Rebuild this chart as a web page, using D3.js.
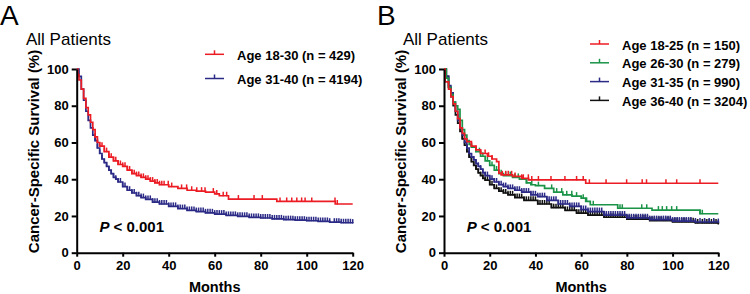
<!DOCTYPE html>
<html>
<head>
<meta charset="utf-8">
<script src="https://cdn.jsdelivr.net/npm/d3@7"></script>
<style>
  body { margin: 0; background: #fff; }
  svg { display: block; font-family: "Liberation Sans", Arial, sans-serif; }
</style>
</head>
<body>
<div id="chart"></div>
<script>
// --- data ---
const monthTicks = [0, 20, 40, 60, 80, 100, 120];
const survivalTicks = [0, 20, 40, 60, 80, 100];

// panel A : [month, survival %]
const age18to30 = [[0,100],[0.5,97],[1,94],[2,89],[3,84],[4,79],[5,75],[6,71],[7,67],[8,63],[9,60],[10,58],[12,55],[14,52],[16,50],[18,48],[20,47],[22,45],[24,43],[26,42],[28,41],[30,40],[32,39],[34,38],[36,37],[40,36],[44,35],[48,34],[52,33.5],[56,33],[60,32],[62,31],[66,29.2],[87,27.9],[112.4,26.5],[120,26.5]];
const age31to40 = [[0,100],[1,96],[2,89],[3,83],[4,77],[5,72],[6,68],[7,64],[8,61],[9,57],[10,54],[11,51],[12,49],[13,47],[14,45],[15,43],[16,41],[17,40],[18,38.5],[20,36],[22,34],[24,32.5],[26,31],[28,30],[30,29],[33,27.5],[36,26.5],[40,25.2],[44,24],[48,23],[52,22.4],[56,21.7],[60,21],[65,20.3],[70,19.8],[75,19.2],[80,18.9],[85,18.4],[90,18],[95,17.7],[100,17.4],[105,17],[110,16.6],[115,16.3],[120,16.1]];

// panel B
const age18to25 = [[0,100],[0.5,93],[2,89],[3,85],[4,81],[5,77],[6,73],[7,68],[8,65],[9,62],[10,60.5],[12,58],[14,56],[16,54],[19,52.5],[21,51],[23,49.6],[24,43.3],[25,42.4],[30,41.5],[34,40.5],[37,39.6],[62,37.8],[120,37.8]];
const age26to30 = [[0,100],[1,95],[2,90],[3,86],[4,82],[5,80],[6,78],[7,72],[8,67],[9,64],[10,61],[11,59],[12,57.5],[14,55],[16,52.5],[18,50],[20,47.5],[22,45],[24,43],[26,42],[30,41],[33,40],[36,38],[38,37],[40,36.5],[44,35],[48,33],[52,31.5],[56,30.8],[60,29.7],[62,27.9],[64,26.1],[76,24.2],[91,23.2],[112,21.2],[120,21.2]];
const age31to35 = [[0,100],[1,96],[2,91],[3,87],[4,82],[5,77],[6,72],[7,68],[8,64],[9,60],[10,57],[11,54],[12,52],[13,50.5],[14,48.5],[15,47],[16,45.5],[17,43.5],[18,42],[20,40],[22,38.5],[24,37],[26,36],[28,35],[31,34],[34,33],[38,31.5],[41,30.5],[45,28.5],[50,26.5],[55,25.2],[60,23.5],[63,22.4],[70,20.5],[80,19],[90,18],[100,17.2],[110,16.7],[120,16.4]];
const age36to40 = [[0,100],[1,96],[2,90],[3,85],[4,80],[5,75],[6,70.5],[7,66],[8,62],[9,58.5],[10,55],[11,52],[12,49.5],[13,47.5],[14,45.5],[15,43.5],[16,42],[17,40.5],[18,39.5],[20,37],[22,35],[24,33.5],[26,32.5],[28,31.5],[31,30],[35,28.5],[41,26.5],[47,24.5],[53,23],[58,21.5],[63,20.5],[70,19.3],[80,18.3],[90,17.5],[100,16.8],[110,16.2],[120,15.6]];

// censored observations (months)
const censor18to30 = [8,9,10,11,12,13,14,15,16,17,18,19,20,21,22,23,24,25,26,27,28,29,30,31,32,33,34,35,36,37,38,39.8,41.3,45.6,47.8,50,52.2,54.3,55.8,59.4,60.9,63.7,65.2,70.3,77.1,80.7,88.4,91.3,93.5,95.7,97.8,99.3,102.2,112.3,113.3];
const censor31to40 = [8,9,10,11,12,13,14,15,16,17,18,19,20,21,22,23,24,25,26,27,28,29,30,31,32,33,34,35,36,37,38,39,40,41,42,43,44,45,46,47,48,49,50,51,52,53,54,55,56,57,58,59,60,61,62,63,64,65,66,67,68,69,70,71,72,73,74,75,76,77,78,79,80,81,82,83,84,85,86,87,88,89,90,91,92,93,94,95,96,97,98,99,100,101,102,103,104,105,106,107,108,109,110,112,113,114,115,116,117,118,119,120];
const censor18to25 = [12,14,16,18,19.5,21,25.5,27,28.1,29.6,31.1,34,34.7,36.9,38.4,41.3,46.8,52.9,58,60.9,63.6,70.9,79.9,86.7,88.6,97.1,101.8,112];
const censor26to30 = [12,14,15.5,17,19,21,23,25,27,29,31,32.5,34,36.2,38.4,41.3,47.1,49.3,51.5,53.7,55.9,58,60.9,62.4,65.3,77,78,86.5,88.7,93.8,95.5,97.4,99.6,101.8,112,113];
const censor31to35 = [10,11,12,13,14,15,16,17,18,19,20,21,22,23,24,25,26,27,28,29,30,31,32,33,34,35,36,37,38,39,40,41,42,43,44,45,46,47,48,49,50,51,52,53,54,55,56,57,58,59,60,61,62,63,64,65,66,67,68,69,70,71,72,73,74,75,76,77,78,79,80,81,82,83,84,85,86,87,88,89,90,91,92,93,94,95,96,97,98,99,100,101,102,103,104,105,106,107,108,110,112,114,116,118,120];
const censor36to40 = [8,9,10,11,12,13,14,15,16,17,18,19,20,21,22,23,24,25,26,27,28,29,30,31,32,33,34,35,36,37,38,39,40,41,42,43,44,45,46,47,48,49,50,51,52,53,54,55,56,57,58,59,60,61,62,63,64,65,66,67,68,69,70,71,72,73,74,75,76,77,78,79,80,81,82,83,84,85,86,87,88,89,90,91,92,93,94,95,96,97,98,99,100,101,102,103,104,105,106,107,108,109,110,111,113,114,115,116,117,118,119,120];

const RED = "#ec1c24", GREEN = "#1b9448", BLUE = "#2b2a86", BLACK = "#111";

const panels = [
  {
    letter: "A", letterX: 0, x0: 76.7, x1: 352.7, yLabelX: 39,
    legendX: 205, legendY: 54.3, legendStep: 24.2,
    series: [
      { label: "Age 18-30 (n = 429)", color: RED, data: age18to30, censor: censor18to30 },
      { label: "Age 31-40 (n = 4194)", color: BLUE, data: age31to40, censor: censor31to40 }
    ]
  },
  {
    letter: "B", letterX: 377, x0: 444, x1: 718.3, yLabelX: 406,
    legendX: 590, legendY: 44, legendStep: 18.8,
    series: [
      { label: "Age 18-25 (n = 150)", color: RED, data: age18to25, censor: censor18to25 },
      { label: "Age 26-30 (n = 279)", color: GREEN, data: age26to30, censor: censor26to30 },
      { label: "Age 31-35 (n = 990)", color: BLUE, data: age31to35, censor: censor31to35 },
      { label: "Age 36-40 (n = 3204)", color: BLACK, data: age36to40, censor: censor36to40 }
    ]
  }
];

const svg = d3.select("#chart").append("svg")
  .attr("width", 750)
  .attr("height", 294);

const yTop = 69, yBottom = 252.7;
const bisect = d3.bisector(d => d[0]).right;

panels.forEach(p => {
  const x = d3.scaleLinear().domain([0, 120]).range([p.x0, p.x1]);
  const y = d3.scaleLinear().domain([0, 100]).range([yBottom, yTop]);
  const g = svg.append("g");

  // panel letter and subtitle
  g.append("text")
    .attr("x", p.letterX).attr("y", 25)
    .attr("font-size", "28px")
    .text(p.letter);
  g.append("text")
    .attr("x", p.letterX + 26).attr("y", 45)
    .attr("font-size", "17px")
    .text("All Patients");

  // curves (drawn back to front so first series sits on top like the original)
  const line = d3.line()
    .x(d => x(d[0]))
    .y(d => y(d[1]))
    .curve(d3.curveStepAfter);

  p.series.slice().reverse().forEach(s => {
    g.append("path")
      .datum(s.data)
      .attr("fill", "none")
      .attr("stroke", s.color)
      .attr("stroke-width", 1.7)
      .attr("d", line);

    const survAt = m => s.data[Math.max(0, bisect(s.data, m) - 1)][1];
    g.selectAll(null)
      .data(s.censor)
      .enter()
      .append("line")
      .attr("x1", d => x(d)).attr("x2", d => x(d))
      .attr("y1", d => y(survAt(d)) + 0.5)
      .attr("y2", d => y(survAt(d)) - 4)
      .attr("stroke", s.color)
      .attr("stroke-width", 1.5);
  });

  // axes
  const xAxis = g.append("g")
    .attr("transform", `translate(0,${yBottom})`)
    .call(d3.axisBottom(x).tickValues(monthTicks).tickSize(4).tickSizeOuter(0).tickPadding(4));
  const yAxis = g.append("g")
    .attr("transform", `translate(${p.x0},0)`)
    .call(d3.axisLeft(y).tickValues(survivalTicks).tickSize(5).tickSizeOuter(0).tickPadding(3));

  [xAxis, yAxis].forEach(a => {
    a.select(".domain").attr("stroke", "#000").attr("stroke-width", 2);
    a.selectAll(".tick line").attr("stroke", "#000").attr("stroke-width", 2);
    a.selectAll(".tick text")
      .attr("fill", "#000")
      .attr("font-family", "Liberation Sans, Arial, sans-serif")
      .attr("font-size", "13px")
      .attr("font-weight", "bold");
  });

  // axis titles
  g.append("text")
    .attr("x", (p.x0 + p.x1) / 2).attr("y", 291.5)
    .attr("text-anchor", "middle")
    .attr("font-size", "14.5px")
    .attr("font-weight", "bold")
    .text("Months");
  g.append("text")
    .attr("transform", `translate(${p.yLabelX},151.5) rotate(-90)`)
    .attr("text-anchor", "middle")
    .attr("font-size", "15px")
    .attr("font-weight", "bold")
    .text("Cancer-Specific Survival (%)");

  // p-value
  const pv = g.append("text")
    .attr("x", x(0) + 22.7).attr("y", 231.7)
    .attr("font-size", "15px")
    .attr("font-weight", "bold");
  pv.append("tspan").attr("font-style", "italic").text("P");
  pv.append("tspan").text(" < 0.001");

  // legend
  const items = g.selectAll(".legend-item")
    .data(p.series)
    .enter()
    .append("g")
    .attr("class", "legend-item")
    .attr("transform", (d, i) => `translate(${p.legendX},${p.legendY + i * p.legendStep})`);
  items.append("line")
    .attr("x1", 0).attr("x2", 19)
    .attr("stroke", d => d.color).attr("stroke-width", 1.5);
  items.append("line")
    .attr("x1", 9.5).attr("x2", 9.5).attr("y1", 0).attr("y2", -4)
    .attr("stroke", d => d.color).attr("stroke-width", 1.5);
  items.append("text")
    .attr("x", 32).attr("y", 5.5)
    .attr("font-size", "13px")
    .attr("font-weight", "bold")
    .text(d => d.label);
});
</script>
</body>
</html>
